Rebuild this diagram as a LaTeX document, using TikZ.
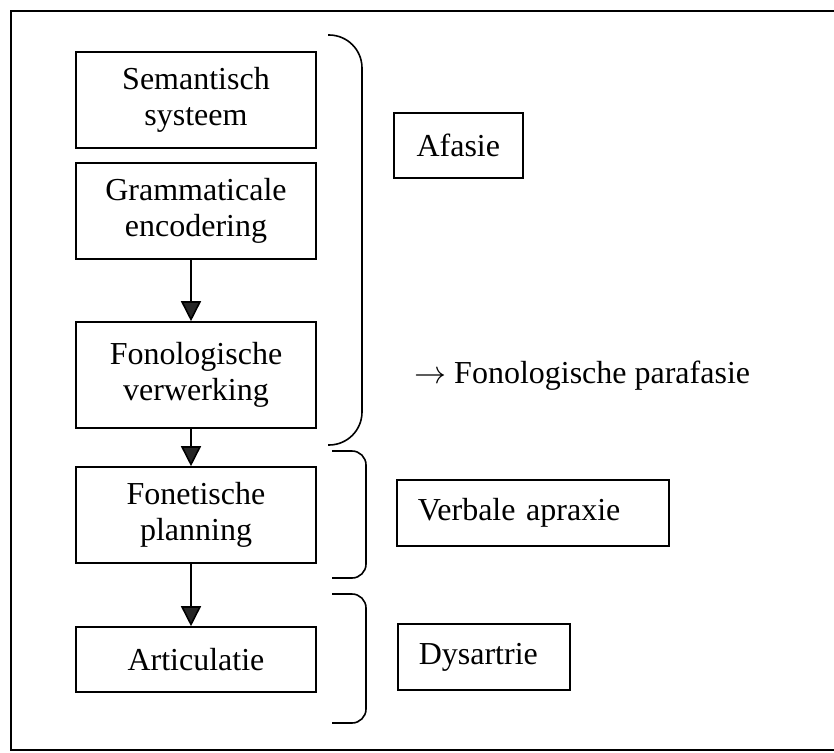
\RequirePackage{fix-cm}
\documentclass[tikz,border=0pt]{standalone}
\usepackage{fontspec}
\setmainfont{Liberation Serif}
\usetikzlibrary{arrows.meta}
\newcommand{\fs}{\fontsize{32pt}{35.5pt}\selectfont}
\begin{document}
\begin{tikzpicture}[x=1pt,y=-1pt,
  every node/.style={font=\fs},
  mainbox/.style={draw, line width=1.6pt, minimum width=240pt, text width=220pt, align=center, inner sep=0pt},
  sidebox/.style={draw, line width=1.6pt, inner ysep=0pt, inner xsep=21pt, align=left, anchor=west},
  flowarrow/.style={line width=1.6pt, -{Triangle[length=20pt,width=20pt,fill=black!85]}},
  bracket/.style={line width=1.6pt},
  frame/.style={line width=1.8pt}]
\useasboundingbox (0,0) rectangle (834,752);
\draw[frame] (834,11) -- (11,11) -- (11,750) -- (834,750);

% left column
\node[mainbox, minimum height=96pt] (sem) at (196,100) {Semantisch\\systeem};
\node[mainbox, minimum height=96pt] (gram) at (196,211) {Grammaticale\\encodering};
\node[mainbox, minimum height=106pt] (fonol) at (196,375) {Fonologische\\verwerking};
\node[mainbox, minimum height=96pt] (fonet) at (196,515) {Fonetische\\planning};
\node[mainbox, minimum height=65pt] (art) at (196,659.5) {Articulatie};

\draw[flowarrow] ([xshift=-5pt]gram.south) -- ([xshift=-5pt]fonol.north);
\draw[flowarrow] ([xshift=-5pt]fonol.south) -- ([xshift=-5pt]fonet.north);
\draw[flowarrow] ([xshift=-5pt]fonet.south) -- ([xshift=-5pt]art.north);

% brackets
\draw[bracket, rounded corners=33pt] (328,35) -- (362,35) -- (362,445) -- (328,445);
\draw[bracket, rounded corners=14pt] (332,451) -- (366,451) -- (366,578) -- (332,578);
\draw[bracket, rounded corners=14pt] (332,594) -- (366,594) -- (366,723) -- (332,723);

% right column
\node[sidebox, minimum width=129pt, minimum height=65pt, align=center, inner xsep=0pt, text width=129pt] (afasie) at (393,145.5) {Afasie};
\node[sidebox, minimum height=66pt, text width=230pt] (apraxie) at (396,513) {Verbale apraxie};
\node[sidebox, minimum height=66pt, text width=130pt] (dys) at (397,657) {Dysartrie};
\node[anchor=base west, inner sep=0pt] (para) at (414,383) {$\rightarrow$ Fonologische parafasie};
\end{tikzpicture}
\end{document}
